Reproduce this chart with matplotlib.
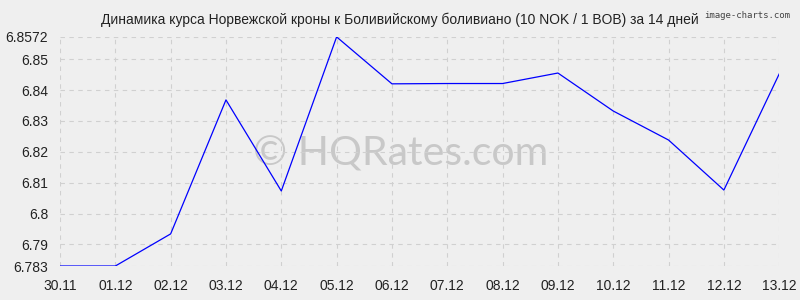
import matplotlib
matplotlib.use("Agg")
import matplotlib.pyplot as plt

dates = ["30.11", "01.12", "02.12", "03.12", "04.12", "05.12", "06.12",
         "07.12", "08.12", "09.12", "10.12", "11.12", "12.12", "13.12"]
values = [6.783, 6.783, 6.7934, 6.8368, 6.8073, 6.8572, 6.8420,
          6.8421, 6.8421, 6.8455, 6.8332, 6.8238, 6.8076, 6.8452]
yticks = [6.783, 6.79, 6.8, 6.81, 6.82, 6.83, 6.84, 6.85, 6.8572]
ytick_labels = ["6.783", "6.79", "6.8", "6.81", "6.82", "6.83", "6.84", "6.85", "6.8572"]
title = "Динамика курса Норвежской кроны к Боливийскому боливиано (10 NOK / 1 BOB) за 14 дней"

plt.rcParams['font.family'] = ['Liberation Sans', 'DejaVu Sans']
bg = "#efefef"
fig = plt.figure(figsize=(8, 3), dpi=100, facecolor=bg)
ax = fig.add_axes([0.075, 0.1133, 0.899, 0.7637], facecolor=bg)
x = list(range(len(dates)))
ax.plot(x, values, color="#0000ff", linewidth=0.9, zorder=3)
ax.set_xlim(0, len(dates) - 1)
ax.set_ylim(6.783, 6.8572)
ax.set_xticks(x)
ax.set_xticklabels(dates, fontsize=10, color="#222222")
ax.set_yticks(yticks)
ax.set_yticklabels(ytick_labels, fontsize=10, color="#222222")
ax.tick_params(axis="x", length=0, pad=9)
ax.tick_params(axis="y", length=0, pad=8.5)
ax.grid(True, color="#d0d0d0", linestyle=(0, (4, 4)), linewidth=0.8)
for s in ax.spines.values():
    s.set_visible(False)
fig.text(0.5, 0.935, title, ha="center", va="center", fontsize=10, color="#222222")
fig.text(0.988, 0.95, "image-charts.com", ha="right", va="center", fontsize=6.5,
         color="#444444", family="DejaVu Sans Mono")
ax.text(0.473, 0.49, "© HQRates.com", transform=ax.transAxes, ha="center", va="center",
        fontsize=29.5, color="#c8c8c8", family="Lato", zorder=1)
fig.savefig("out.png", dpi=100, facecolor=bg)
